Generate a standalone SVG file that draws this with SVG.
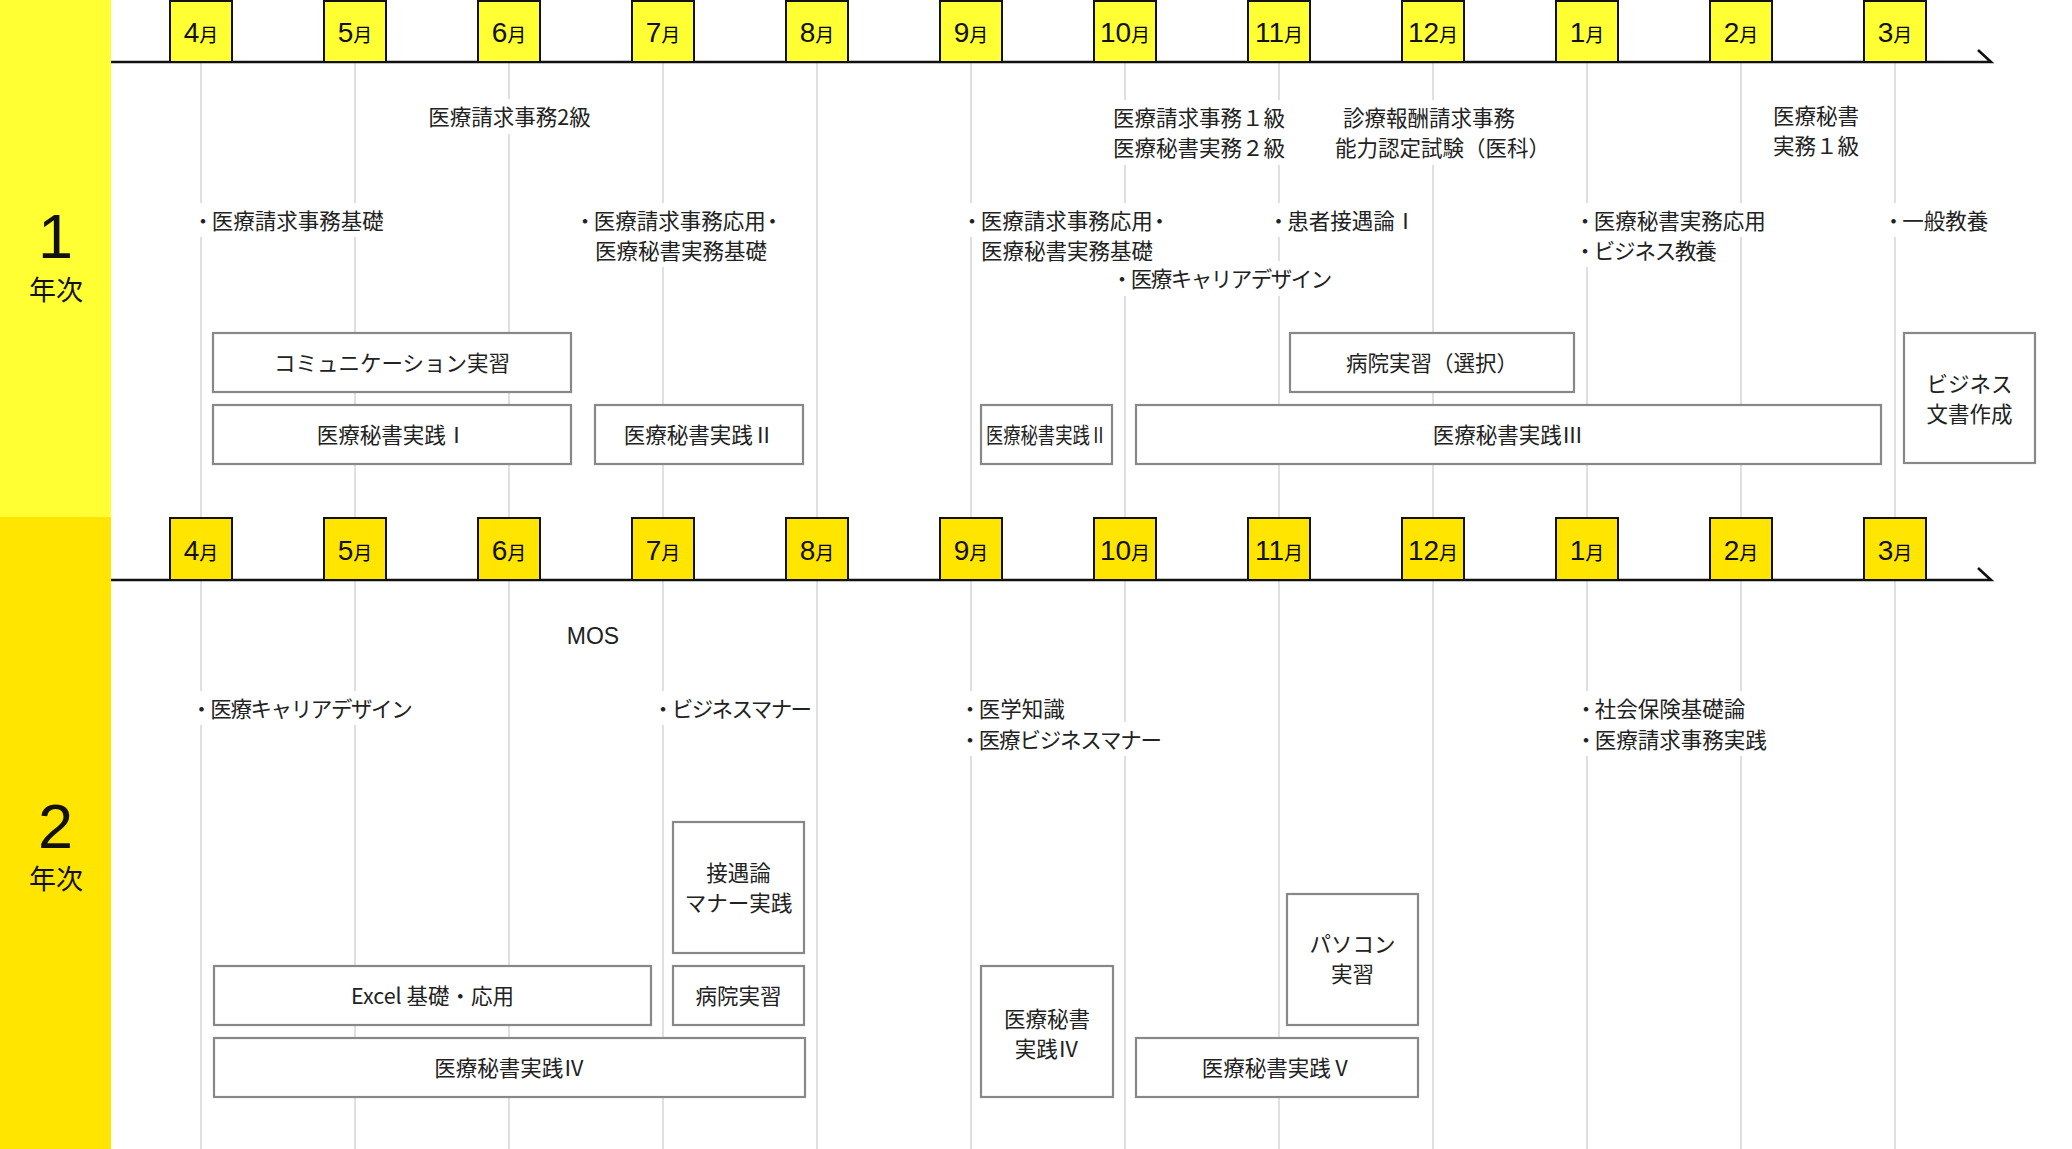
<svg xmlns="http://www.w3.org/2000/svg" width="2072" height="1149" viewBox="0 0 2072 1149">
<defs>
<style>
.t{font-family:"Noto Sans CJK JP","Noto Sans",sans-serif;font-size:21.5px;fill:#222}
.m{text-anchor:middle}
.mn{font-family:"Liberation Sans","Noto Sans CJK JP",sans-serif;font-size:28px;fill:#111}
.mj{font-family:"Noto Sans CJK JP",sans-serif;font-size:19px}
.big{font-family:"Liberation Sans",sans-serif;font-size:63px;fill:#111;text-anchor:middle}
.nen{font-family:"Noto Sans CJK JP",sans-serif;font-size:27px;fill:#111;text-anchor:middle}
.lat{font-family:"Liberation Sans",sans-serif;font-size:23px;fill:#222;text-anchor:middle}
.mb1{fill:#FFFF33;stroke:#111;stroke-width:2}
.mb2{fill:#FFE500;stroke:#111;stroke-width:2}
.g{stroke:#cccccc;stroke-width:1.2}
.ax{fill:none;stroke:#111;stroke-width:2.6}
.bx{fill:#fff;stroke:#888;stroke-width:2.2}
.bg{fill:#fff}
</style>
</defs>
<rect width="2072" height="1149" fill="#fff"/>
<g id="bands">
<rect x="0" y="0" width="111" height="517" fill="#FFFF33"/>
<rect x="0" y="517" width="111" height="632" fill="#FFE500"/>
<text class="big" x="55.5" y="258">1</text>
<text class="nen" x="56" y="300">年次</text>
<text class="big" x="55.5" y="848">2</text>
<text class="nen" x="56" y="889">年次</text>
</g>
<g id="grid">
<path class="g" d="M201 63V517M355 63V517M509 63V517M663 63V517M817 63V517M971 63V517M1125 63V517M1279 63V517M1433 63V517M1587 63V517M1741 63V517M1895 63V517"/>
<path class="g" d="M201 581V1149M355 581V1149M509 581V1149M663 581V1149M817 581V1149M971 581V1149M1125 581V1149M1279 581V1149M1433 581V1149M1587 581V1149M1741 581V1149M1895 581V1149"/>
</g>
<g id="axes">
<path class="ax" d="M111 62H1991L1978 50"/>
<path class="ax" d="M111 580H1991L1978 568"/>
</g>
<g id="months-y1">
<rect class="mb1" x="170" y="1" width="62" height="61"/><text class="m" x="201" y="42"><tspan class="mn">4</tspan><tspan class="mj">月</tspan></text>
<rect class="mb1" x="324" y="1" width="62" height="61"/><text class="m" x="355" y="42"><tspan class="mn">5</tspan><tspan class="mj">月</tspan></text>
<rect class="mb1" x="478" y="1" width="62" height="61"/><text class="m" x="509" y="42"><tspan class="mn">6</tspan><tspan class="mj">月</tspan></text>
<rect class="mb1" x="632" y="1" width="62" height="61"/><text class="m" x="663" y="42"><tspan class="mn">7</tspan><tspan class="mj">月</tspan></text>
<rect class="mb1" x="786" y="1" width="62" height="61"/><text class="m" x="817" y="42"><tspan class="mn">8</tspan><tspan class="mj">月</tspan></text>
<rect class="mb1" x="940" y="1" width="62" height="61"/><text class="m" x="971" y="42"><tspan class="mn">9</tspan><tspan class="mj">月</tspan></text>
<rect class="mb1" x="1094" y="1" width="62" height="61"/><text class="m" x="1125" y="42"><tspan class="mn">10</tspan><tspan class="mj">月</tspan></text>
<rect class="mb1" x="1248" y="1" width="62" height="61"/><text class="m" x="1279" y="42"><tspan class="mn">11</tspan><tspan class="mj">月</tspan></text>
<rect class="mb1" x="1402" y="1" width="62" height="61"/><text class="m" x="1433" y="42"><tspan class="mn">12</tspan><tspan class="mj">月</tspan></text>
<rect class="mb1" x="1556" y="1" width="62" height="61"/><text class="m" x="1587" y="42"><tspan class="mn">1</tspan><tspan class="mj">月</tspan></text>
<rect class="mb1" x="1710" y="1" width="62" height="61"/><text class="m" x="1741" y="42"><tspan class="mn">2</tspan><tspan class="mj">月</tspan></text>
<rect class="mb1" x="1864" y="1" width="62" height="61"/><text class="m" x="1895" y="42"><tspan class="mn">3</tspan><tspan class="mj">月</tspan></text>
</g>
<g id="months-y2">
<rect class="mb2" x="170" y="518" width="62" height="62"/><text class="m" x="201" y="560"><tspan class="mn">4</tspan><tspan class="mj">月</tspan></text>
<rect class="mb2" x="324" y="518" width="62" height="62"/><text class="m" x="355" y="560"><tspan class="mn">5</tspan><tspan class="mj">月</tspan></text>
<rect class="mb2" x="478" y="518" width="62" height="62"/><text class="m" x="509" y="560"><tspan class="mn">6</tspan><tspan class="mj">月</tspan></text>
<rect class="mb2" x="632" y="518" width="62" height="62"/><text class="m" x="663" y="560"><tspan class="mn">7</tspan><tspan class="mj">月</tspan></text>
<rect class="mb2" x="786" y="518" width="62" height="62"/><text class="m" x="817" y="560"><tspan class="mn">8</tspan><tspan class="mj">月</tspan></text>
<rect class="mb2" x="940" y="518" width="62" height="62"/><text class="m" x="971" y="560"><tspan class="mn">9</tspan><tspan class="mj">月</tspan></text>
<rect class="mb2" x="1094" y="518" width="62" height="62"/><text class="m" x="1125" y="560"><tspan class="mn">10</tspan><tspan class="mj">月</tspan></text>
<rect class="mb2" x="1248" y="518" width="62" height="62"/><text class="m" x="1279" y="560"><tspan class="mn">11</tspan><tspan class="mj">月</tspan></text>
<rect class="mb2" x="1402" y="518" width="62" height="62"/><text class="m" x="1433" y="560"><tspan class="mn">12</tspan><tspan class="mj">月</tspan></text>
<rect class="mb2" x="1556" y="518" width="62" height="62"/><text class="m" x="1587" y="560"><tspan class="mn">1</tspan><tspan class="mj">月</tspan></text>
<rect class="mb2" x="1710" y="518" width="62" height="62"/><text class="m" x="1741" y="560"><tspan class="mn">2</tspan><tspan class="mj">月</tspan></text>
<rect class="mb2" x="1864" y="518" width="62" height="62"/><text class="m" x="1895" y="560"><tspan class="mn">3</tspan><tspan class="mj">月</tspan></text>
</g>
<g id="exams-y1">
<g id="exam-2kyu"><rect class="bg" x="425" y="99" width="170" height="35"/><text class="t m" x="509.5" y="125">医療請求事務2級</text></g>
<g id="exam-1kyu"><rect class="bg" x="1111" y="100" width="176" height="65"/><text class="t m" x="1199" y="126">医療請求事務１級</text><text class="t m" x="1199" y="156">医療秘書実務２級</text></g>
<g id="exam-shinryo"><rect class="bg" x="1331" y="100" width="204" height="65"/><text class="t" x="1343" y="126">診療報酬請求事務</text><text class="t" x="1335" y="156">能力認定試験（医科）</text></g>
<g id="exam-hisho1"><rect class="bg" x="1770" y="98" width="92" height="65"/><text class="t m" x="1816" y="124">医療秘書</text><text class="t m" x="1816" y="154">実務１級</text></g>
</g>
<g id="subjects-y1">
<g id="s-kiso"><rect class="bg" x="192" y="203" width="195" height="34"/><text class="t" x="192.3" y="229">・<tspan dx="-2">医療請求事務基礎</tspan></text></g>
<g id="s-oyo1"><rect class="bg" x="574" y="203" width="206" height="34"/><rect class="bg" x="590" y="233" width="180" height="34"/><text class="t" x="574.3" y="229">・<tspan dx="-2">医療請求事務応用</tspan><tspan dx="-4">・</tspan></text><text class="t" x="595" y="259">医療秘書実務基礎</text></g>
<g id="s-oyo2"><rect class="bg" x="961" y="203" width="206" height="34"/><rect class="bg" x="977" y="233" width="180" height="34"/><text class="t" x="961.3" y="229">・<tspan dx="-2">医療請求事務応用</tspan><tspan dx="-4">・</tspan></text><text class="t" x="981" y="259">医療秘書実務基礎</text></g>
<g id="s-career1"><rect class="bg" x="1111" y="261" width="226" height="35"/><text class="t" x="1111.3" y="286.5">・<tspan dx="-2" letter-spacing="-1.5">医療キャリアデザイン</tspan></text></g>
<g id="s-sessu"><rect class="bg" x="1267" y="203" width="152" height="34"/><text class="t" x="1267.8" y="229">・<tspan dx="-2">患者接遇論Ⅰ</tspan></text></g>
<g id="s-hisho-oyo"><rect class="bg" x="1574" y="203" width="172" height="34"/><rect class="bg" x="1574" y="233" width="144" height="34"/><text class="t" x="1574.3" y="229">・<tspan dx="-2">医療秘書実務応用</tspan></text><text class="t" x="1574.3" y="259">・<tspan dx="-2" letter-spacing="-1.2">ビジネス教養</tspan></text></g>
<g id="s-ippan"><rect class="bg" x="1882" y="203" width="108" height="34"/><text class="t" x="1882.8" y="229">・<tspan dx="-2">一般教養</tspan></text></g>
</g>
<g id="boxes-y1">
<g id="b-comm"><rect class="bx" x="213" y="333" width="358" height="59"/><text class="t m" x="392" y="371">コミュニケーション実習</text></g>
<g id="b-jissen1"><rect class="bx" x="213" y="405" width="358" height="59"/><text class="t m" x="392" y="443">医療秘書実践Ⅰ</text></g>
<g id="b-jissen2a"><rect class="bx" x="595" y="405" width="208" height="59"/><text class="t m" x="699" y="443">医療秘書実践Ⅱ</text></g>
<g id="b-jissen2b"><rect class="bx" x="981" y="405" width="131" height="59"/><text class="t" x="986" y="443" textLength="121" lengthAdjust="spacingAndGlyphs">医療秘書実践Ⅱ</text></g>
<g id="b-jissen3"><rect class="bx" x="1136" y="405" width="745" height="59"/><text class="t m" x="1508" y="443">医療秘書実践Ⅲ</text></g>
<g id="b-byoin-sentaku"><rect class="bx" x="1290" y="333" width="284" height="59"/><text class="t m" x="1432" y="371">病院実習（選択）</text></g>
<g id="b-bunsho"><rect class="bx" x="1904" y="333" width="131" height="130"/><text class="t m" x="1969.5" y="392">ビジネス</text><text class="t m" x="1969.5" y="422">文書作成</text></g>
</g>
<g id="exams-y2">
<g id="exam-mos"><text class="lat" x="593" y="644">MOS</text></g>
</g>
<g id="subjects-y2">
<g id="s-career2"><rect class="bg" x="190" y="691" width="224" height="34"/><text class="t" x="190.8" y="716.5">・<tspan dx="-2" letter-spacing="-1.4">医療キャリアデザイン</tspan></text></g>
<g id="s-manner"><rect class="bg" x="652" y="691" width="163" height="34"/><text class="t" x="652.3" y="716.5">・<tspan dx="-2" letter-spacing="-1.6">ビジネスマナー</tspan></text></g>
<g id="s-igaku"><rect class="bg" x="959" y="691" width="108" height="34"/><rect class="bg" x="959" y="722" width="206" height="34"/><text class="t" x="959.3" y="716.5">・<tspan dx="-2">医学知識</tspan></text><text class="t" x="959.3" y="747.5">・<tspan dx="-2" letter-spacing="-1.2">医療ビジネスマナー</tspan></text></g>
<g id="s-shakai"><rect class="bg" x="1575" y="691" width="172" height="34"/><rect class="bg" x="1575" y="722" width="194" height="34"/><text class="t" x="1575.3" y="716.5">・<tspan dx="-2">社会保険基礎論</tspan></text><text class="t" x="1575.3" y="747.5">・<tspan dx="-2">医療請求事務実践</tspan></text></g>
</g>
<g id="boxes-y2">
<g id="b-setsugu"><rect class="bx" x="673" y="822" width="131" height="131"/><text class="t m" x="738.5" y="881">接遇論</text><text class="t m" x="738.5" y="911">マナー実践</text></g>
<g id="b-excel"><rect class="bx" x="214" y="966" width="437" height="59"/><text class="t m" x="432.5" y="1004">Excel 基礎・応用</text></g>
<g id="b-byoin"><rect class="bx" x="673" y="966" width="131" height="59"/><text class="t m" x="738.5" y="1004">病院実習</text></g>
<g id="b-jissen4"><rect class="bx" x="214" y="1038" width="591" height="59"/><text class="t m" x="509.5" y="1076">医療秘書実践Ⅳ</text></g>
<g id="b-jissen4b"><rect class="bx" x="981" y="966" width="132" height="131"/><text class="t m" x="1047" y="1027">医療秘書</text><text class="t m" x="1047" y="1057">実践Ⅳ</text></g>
<g id="b-pasokon"><rect class="bx" x="1287" y="894" width="131" height="131"/><text class="t m" x="1352.5" y="952">パソコン</text><text class="t m" x="1352.5" y="982">実習</text></g>
<g id="b-jissen5"><rect class="bx" x="1136" y="1038" width="282" height="59"/><text class="t m" x="1277" y="1076">医療秘書実践Ⅴ</text></g>
</g>
</svg>
